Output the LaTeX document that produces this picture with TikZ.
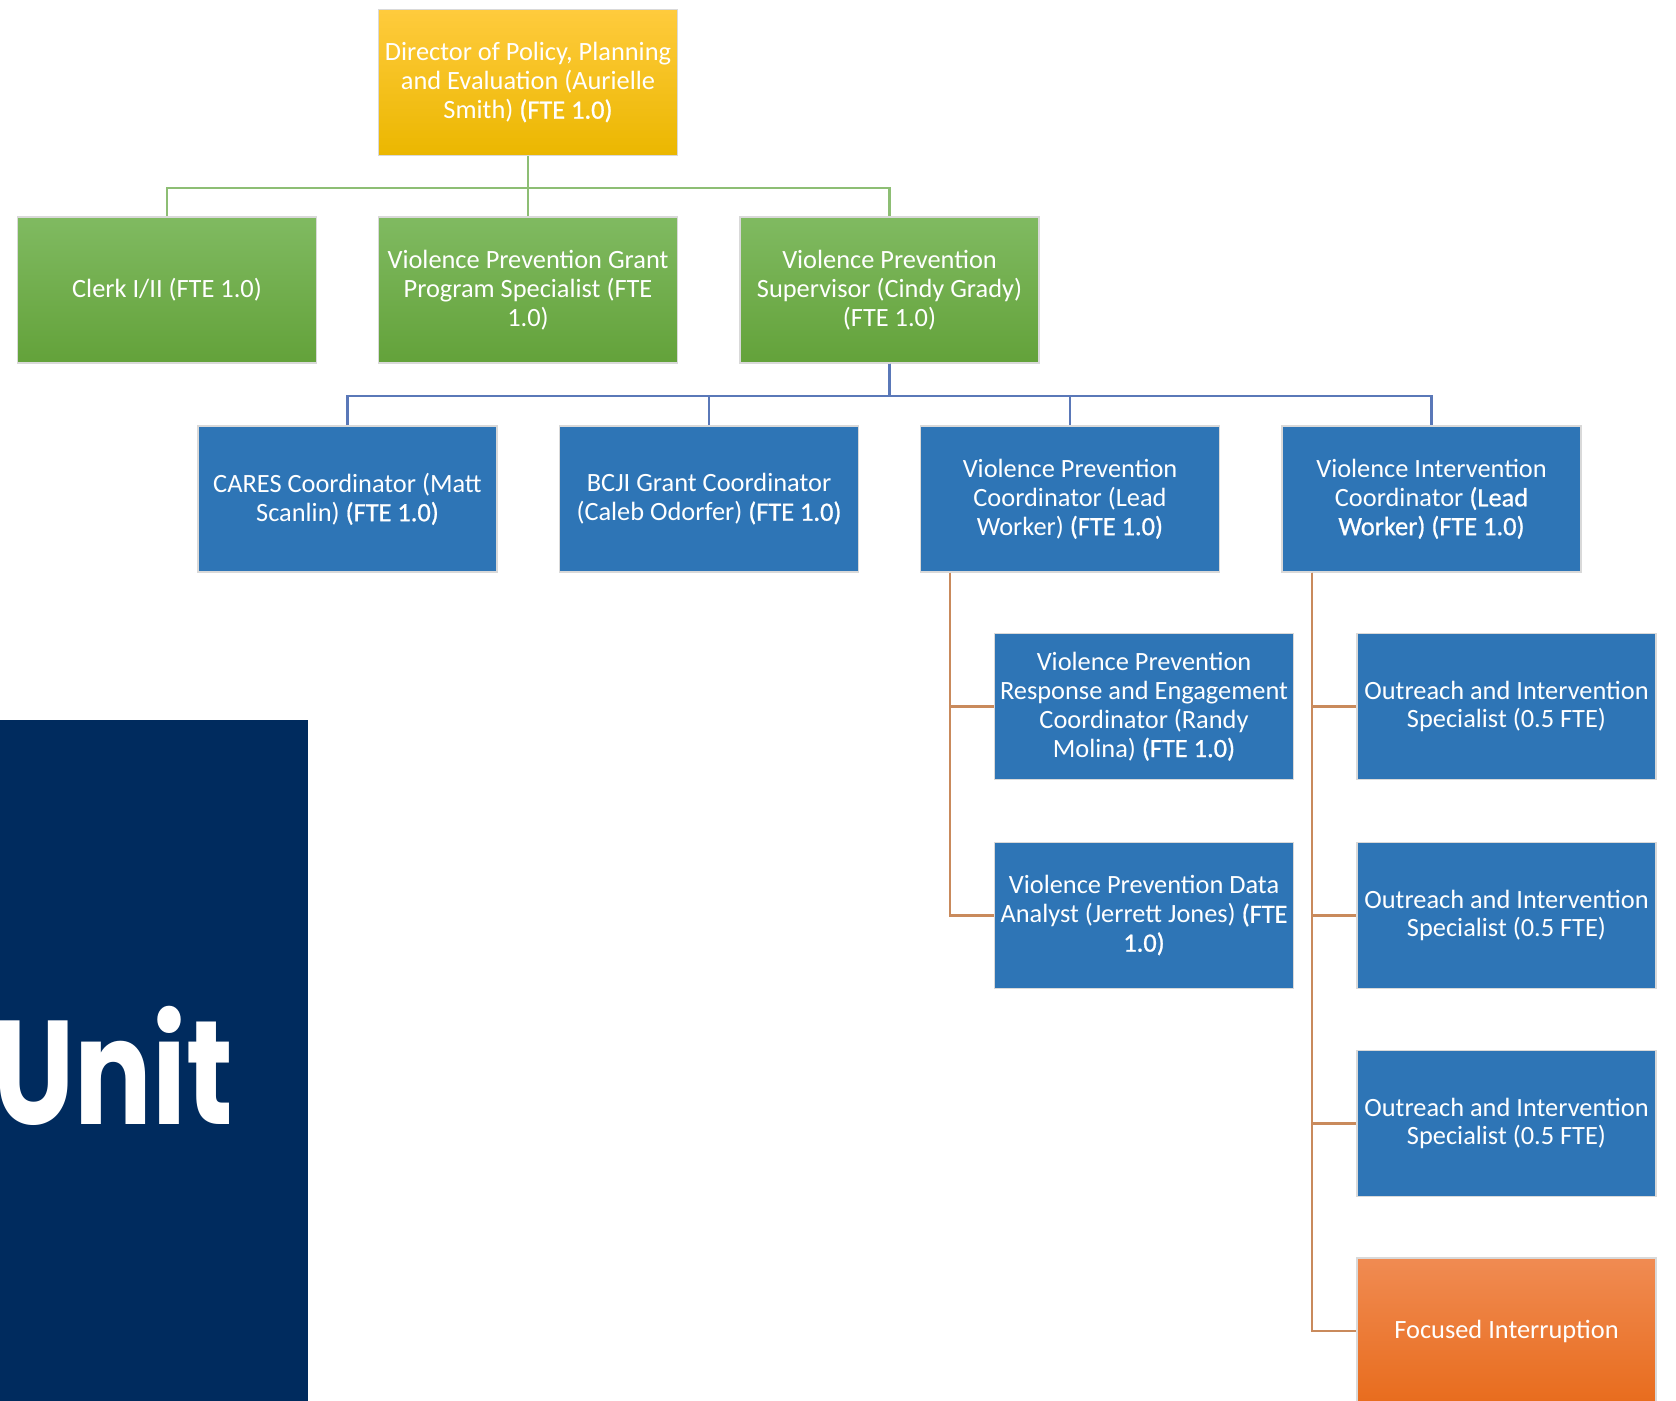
\documentclass[tikz,border=0pt]{standalone}
\usepackage{fontspec}
\usepackage{graphicx}
\setmainfont{Carlito}
\newfontfamily\unitfont{Poppins}
\newfontfamily\heavier{Carlito}[FakeBold=0.8]
\usepackage{tikz}
\usetikzlibrary{positioning,calc}

\definecolor{dirtop}{HTML}{FFCB3D}
\definecolor{dirbot}{HTML}{EBB700}
\definecolor{grtop}{HTML}{80BA61}
\definecolor{grbot}{HTML}{63A23A}
\definecolor{vpblue}{HTML}{2E75B6}
\definecolor{ortop}{HTML}{F08B52}
\definecolor{orbot}{HTML}{E86C1D}
\definecolor{unitnavy}{HTML}{002B5E}
\definecolor{greenline}{HTML}{8DBE74}
\definecolor{blueline}{HTML}{5A78B8}
\definecolor{orangeline}{HTML}{C98A5C}

\newcommand{\fte}[1]{{\heavier #1}}

\tikzset{
  orgbox/.style={rectangle, draw=gray!30, line width=0.4pt, inner sep=0pt,
    minimum width=2.99cm, minimum height=1.46cm,
    align=center, text=white, font=\fontsize{7.5}{8.2}\selectfont},
  dirbox/.style={orgbox, top color=dirtop, bottom color=dirbot},
  greenbox/.style={orgbox, top color=grtop, bottom color=grbot},
  bluebox/.style={orgbox, fill=vpblue},
  orangebox/.style={orgbox, top color=ortop, bottom color=orbot},
  greenlink/.style={draw=greenline, line width=0.6pt},
  bluelink/.style={draw=blueline, line width=0.6pt},
  orangelink/.style={draw=orangeline, line width=0.6pt}
}

\begin{document}
\begin{tikzpicture}[x=0.01cm, y=-0.01cm]

\useasboundingbox (0,0) rectangle (1676,1401);

% Unit banner at the left
\fill[unitnavy] (0,720) rectangle (308,1401);
\node[anchor=base east, inner sep=0pt, text=white,
      font=\unitfont\bfseries\fontsize{42}{48}\selectfont] (unit) at (234,1124)
  {\scalebox{0.78}[1]{Unit}};

% Director
\node[dirbox] (dir) at (528,82.5)
  {Director of Policy, Planning\\and Evaluation (Aurielle\\Smith) \fte{(FTE 1.0)}};

% Second level
\node[greenbox] (clerk) at (167,290) {Clerk I/II (FTE 1.0)};
\node[greenbox] (grant) at (528,290)
  {Violence Prevention Grant\\Program Specialist (FTE\\1.0)};
\node[greenbox] (sup) at (889.5,290)
  {Violence Prevention\\Supervisor (Cindy Grady)\\(FTE 1.0)};

% Third level
\node[bluebox] (cares) at (347.5,499)
  {CARES Coordinator (Matt\\Scanlin) \fte{(FTE 1.0)}};
\node[bluebox] (bcji) at (709,499)
  {BCJI Grant Coordinator\\(Caleb Odorfer) \fte{(FTE 1.0)}};
\node[bluebox] (vpc) at (1070,499)
  {Violence Prevention\\Coordinator (Lead\\Worker) \fte{(FTE 1.0)}};
\node[bluebox] (vic) at (1431.5,499)
  {Violence Intervention\\Coordinator \fte{(Lead}\\\fte{Worker) (FTE 1.0)}};

% Under the prevention coordinator
\node[bluebox] (resp) at (1144,706.5)
  {Violence Prevention\\Response and Engagement\\Coordinator (Randy\\Molina) \fte{(FTE 1.0)}};
\node[bluebox] (data) at (1144,915.5)
  {Violence Prevention Data\\Analyst (Jerrett Jones) \fte{(FTE}\\\fte{1.0)}};

% Under the intervention coordinator
\node[bluebox] (out1) at (1506.5,706.5)
  {Outreach and Intervention\\Specialist (0.5 FTE)};
\node[bluebox] (out2) at (1506.5,915.5)
  {Outreach and Intervention\\Specialist (0.5 FTE)};
\node[bluebox] (out3) at (1506.5,1123.5)
  {Outreach and Intervention\\Specialist (0.5 FTE)};
\node[orangebox] (focus) at (1506.5,1331) {Focused Interruption};

% Connectors
\draw[greenlink] (dir.south) -- ++(0,32) -| (clerk.north);
\draw[greenlink] (dir.south) -- (grant.north);
\draw[greenlink] (dir.south) -- ++(0,32) -| (sup.north);

\draw[bluelink] (sup.south) -- ++(0,32) -| (cares.north);
\draw[bluelink] (sup.south) -- ++(0,32) -| (bcji.north);
\draw[bluelink] (sup.south) -- ++(0,32) -| (vpc.north);
\draw[bluelink] (sup.south) -- ++(0,32) -| (vic.north);

\coordinate (vpcdrop) at ($(vpc.south west)+(30,0)$);
\draw[orangelink] (vpcdrop) |- (resp.west);
\draw[orangelink] (vpcdrop) |- (data.west);

\coordinate (vicdrop) at ($(vic.south west)+(31,0)$);
\draw[orangelink] (vicdrop) |- (out1.west);
\draw[orangelink] (vicdrop) |- (out2.west);
\draw[orangelink] (vicdrop) |- (out3.west);
\draw[orangelink] (vicdrop) |- (focus.west);

\end{tikzpicture}
\end{document}
